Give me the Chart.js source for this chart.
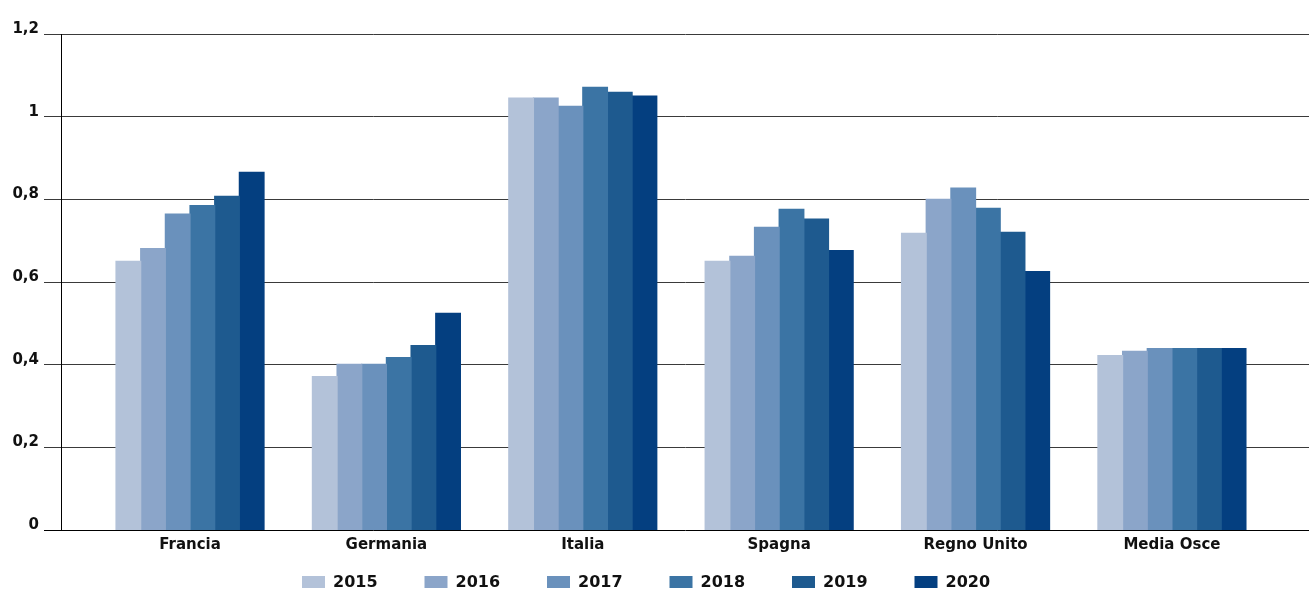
<!DOCTYPE html>
<html>
<head>
<meta charset="utf-8">
<script src="https://cdn.jsdelivr.net/npm/chart.js@4/dist/chart.umd.min.js"></script>
<style>
  html, body { margin: 0; padding: 0; background: #ffffff; }
  #wrap { width: 1309px; height: 590px; }
</style>
</head>
<body>
<div id="wrap"><canvas id="chart" width="1309" height="590"></canvas></div>
<script>
// Countries along the x axis
const categories = ['Francia', 'Germania', 'Italia', 'Spagna', 'Regno Unito', 'Media Osce'];

// One series per year
const years = ['2015', '2016', '2017', '2018', '2019', '2020'];
const v2015 = [0.650, 0.371, 1.045, 0.650, 0.718, 0.422];
const v2016 = [0.681, 0.401, 1.045, 0.662, 0.800, 0.432];
const v2017 = [0.764, 0.401, 1.025, 0.732, 0.827, 0.439];
const v2018 = [0.785, 0.417, 1.071, 0.776, 0.778, 0.439];
const v2019 = [0.807, 0.446, 1.059, 0.752, 0.720, 0.439];
const v2020 = [0.865, 0.524, 1.050, 0.676, 0.625, 0.439];
const seriesValues = [v2015, v2016, v2017, v2018, v2019, v2020];

// Y axis tick labels (Italian decimal comma)
const yTickLabels = ['0', '0,2', '0,4', '0,6', '0,8', '1', '1,2'];

// Blue ramp, light to dark
const yearColors = ['#b3c2d9', '#8ba5c9', '#6a91bc', '#3b74a4', '#1e5a8f', '#043f80'];

const FONT = "'DejaVu Sans', 'Liberation Sans', sans-serif";
const TEXT = '#111111';

const datasets = years.map((year, s) => ({
  label: year,
  data: seriesValues[s].map((v, i) => ({ x: i, y: v })),
  backgroundColor: yearColors[s],
  borderWidth: 0,
  inflateAmount: 0.6,
  categoryPercentage: 0.7536,
  barPercentage: 1.0
}));

// Legend row under the axis: one swatch + year per dataset, evenly stepped
const yearLegend = {
  id: 'yearLegend',
  afterDraw(chart) {
    const ctx = chart.ctx;
    const left = 302, step = 122.5, midY = 582;
    const boxW = 23, boxH = 12, gap = 8;
    ctx.save();
    ctx.font = `bold 16px ${FONT}`;
    ctx.textBaseline = 'middle';
    ctx.textAlign = 'left';
    chart.data.datasets.forEach((ds, i) => {
      const x = left + i * step;
      ctx.fillStyle = ds.backgroundColor;
      ctx.fillRect(x, midY - boxH / 2, boxW, boxH);
      ctx.fillStyle = TEXT;
      ctx.fillText(ds.label, x + boxW + gap, midY + 1);
    });
    ctx.restore();
  }
};

new Chart(document.getElementById('chart'), {
  type: 'bar',
  data: { datasets },
  plugins: [yearLegend],
  options: {
    responsive: false,
    devicePixelRatio: 1,
    animation: false,
    layout: { padding: { top: 34, right: 0, bottom: 30, left: 0 } },
    plugins: {
      tooltip: { enabled: false },
      legend: { display: false }
    },
    scales: {
      x: {
        type: 'linear',
        offset: false,
        min: -0.657,
        max: 5.698,
        afterBuildTicks: (scale) => {
          scale.ticks = categories.map((_, i) => ({ value: i }));
        },
        grid: { display: false, drawTicks: false },
        border: { display: false },
        ticks: {
          autoSkip: false,
          maxRotation: 0,
          padding: 6,
          color: TEXT,
          font: { family: FONT, size: 15, weight: 'bold' },
          callback: (value) => categories[value] ?? ''
        }
      },
      y: {
        min: 0,
        max: 1.2,
        afterFit: (scale) => { scale.width = 61; },
        grid: {
          color: (ctx) => (ctx.tick && ctx.tick.value === 0 ? '#000000' : '#3a3a3a'),
          lineWidth: 1,
          drawTicks: true,
          tickLength: 17
        },
        border: { display: true, color: '#000000', width: 1 },
        ticks: {
          stepSize: 0.2,
          padding: 5,
          labelOffset: -5,
          color: TEXT,
          font: { family: FONT, size: 15, weight: 'bold' },
          callback: (value, index) => yTickLabels[index] ?? ''
        }
      }
    }
  }
});
</script>
</body>
</html>
